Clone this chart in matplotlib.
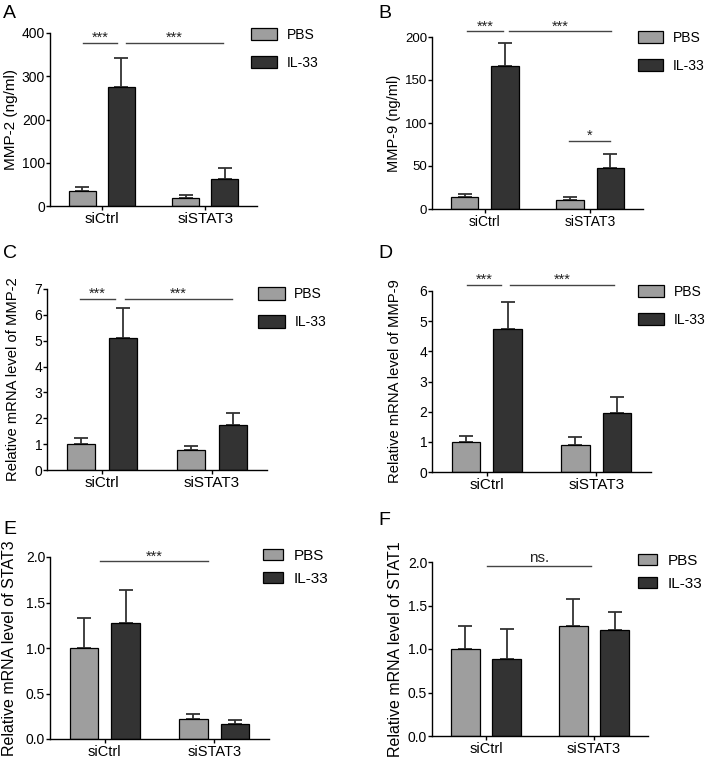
import numpy as np
import matplotlib
matplotlib.use('Agg')
import matplotlib.pyplot as plt

plt.rcParams['font.family'] = ['Liberation Sans', 'DejaVu Sans']

groups = ['siCtrl', 'siSTAT3']
series = ['PBS', 'IL-33']
colors = ['#9e9e9e', '#333333']

# panel data: means and upper SD for PBS, IL-33 in siCtrl / siSTAT3
pbs_mean = {'A': [35, 19], 'B': [13.9, 10.8], 'C': [0.99, 0.76],
            'D': [0.99, 0.88], 'E': [1.0, 0.22], 'F': [1.0, 1.26]}
pbs_err = {'A': [10, 7], 'B': [4.1, 3.5], 'C': [0.23, 0.15],
           'D': [0.2, 0.28], 'E': [0.33, 0.05], 'F': [0.27, 0.315]}
il33_mean = {'A': [275, 62], 'B': [166, 47.9], 'C': [5.1, 1.74],
             'D': [4.75, 1.96], 'E': [1.28, 0.16], 'F': [0.88, 1.215]}
il33_err = {'A': [68, 25], 'B': [27, 16], 'C': [1.16, 0.46],
            'D': [0.9, 0.54], 'E': [0.36, 0.05], 'F': [0.35, 0.215]}

ylabels = {'A': 'MMP-2 (ng/ml)', 'B': 'MMP-9 (ng/ml)',
           'C': 'Relative mRNA level of MMP-2', 'D': 'Relative mRNA level of MMP-9',
           'E': 'Relative mRNA level of STAT3', 'F': 'Relative mRNA level of STAT1'}
yticks = {'A': [0, 100, 200, 300, 400], 'B': [0, 50, 100, 150, 200],
          'C': [0, 1, 2, 3, 4, 5, 6, 7], 'D': [0, 1, 2, 3, 4, 5, 6],
          'E': [0.0, 0.5, 1.0, 1.5, 2.0], 'F': [0.0, 0.5, 1.0, 1.5, 2.0]}
ytick_fmt = {'A': '{:.0f}', 'B': '{:.0f}', 'C': '{:.0f}', 'D': '{:.0f}',
             'E': '{:.1f}', 'F': '{:.1f}'}

# significance brackets: (x0, x1, y, text)
sig = {'A': [(-0.18, 0.15, 378, '***'), (0.23, 1.17, 378, '***')],
       'B': [(-0.165, 0.176, 206.5, '***'), (0.23, 1.2, 206.5, '***'), (0.8, 1.19, 79.5, '*')],
       'C': [(-0.2, 0.12, 6.63, '***'), (0.21, 1.18, 6.63, '***')],
       'D': [(-0.18, 0.13, 6.21, '***'), (0.21, 1.16, 6.21, '***')],
       'E': [(-0.04, 0.94, 1.956, '***')],
       'F': [(0.01, 0.97, 1.95, 'ns.')]}

W, H = 709, 759
# axes boxes in pixels: left, right, top, bottom
boxes = {'A': (50, 257, 33, 206), 'B': (432, 643, 37, 209),
         'C': (47, 267, 289, 470), 'D': (432, 651, 291, 472),
         'E': (50, 269, 557, 739), 'F': (432, 648, 562, 736)}
# legend: anchor x, anchor y, labelspacing, fontsize, handlelength, handleheight
legend_opt = {'A': (0.97, 1.03, 1.0, 10, 1.9, 1.0), 'B': (0.975, 1.035, 1.0, 10, 1.85, 0.95),
              'C': (0.96, 1.01, 1.0, 10, 1.9, 1.0), 'D': (0.94, 1.035, 1.0, 10, 1.9, 1.0),
              'E': (0.973, 1.044, 0.58, 11, 1.3, 0.7), 'F': (0.954, 1.047, 0.58, 11, 1.25, 0.7)}
label_x = {'A': -0.155, 'B': -0.147, 'C': -0.123, 'D': -0.137, 'E': -0.15, 'F': -0.134}
label_fs = {'A': 11, 'B': 10.5, 'C': 10.6, 'D': 10.6, 'E': 11.5, 'F': 11.5}
ytick_fs = {'A': 10, 'B': 9.5, 'C': 10, 'D': 10, 'E': 10, 'F': 10}
xtick_fs = {'A': 11, 'B': 10, 'C': 11, 'D': 11, 'E': 10.5, 'F': 10.5}
letter_pos = {'A': (3, 5), 'B': (378, 5), 'C': (3, 245), 'D': (378, 245),
              'E': (3, 521), 'F': (378, 512)}

fig = plt.figure(figsize=(W / 100, H / 100), dpi=100)

x = np.arange(len(groups))
off = 0.19
bw = 0.26

for key in ['A', 'B', 'C', 'D', 'E', 'F']:
    l, r, t, b = boxes[key]
    ax = fig.add_axes([l / W, 1 - b / H, (r - l) / W, (b - t) / H])
    means = [pbs_mean[key], il33_mean[key]]
    errs = [pbs_err[key], il33_err[key]]
    for i, s in enumerate(series):
        xs = x + (2 * i - 1) * off
        ax.errorbar(xs, means[i], yerr=[np.zeros(2), errs[i]], fmt='none',
                    ecolor='#333333', elinewidth=1.3, capsize=5, capthick=1.3, zorder=1)
        ax.bar(xs, means[i], width=bw, color=colors[i], edgecolor='black',
               linewidth=0.9, label=s, zorder=2)
    yt = yticks[key]
    ax.set_ylim(yt[0], yt[-1])
    ax.set_xlim(-0.5, 1.5)
    ax.set_yticks(yt)
    ax.set_yticklabels([ytick_fmt[key].format(v) for v in yt])
    ax.set_xticks(x)
    ax.set_xticklabels(groups)
    ax.set_ylabel(ylabels[key], fontsize=label_fs[key])
    ax.yaxis.set_label_coords(label_x[key], 0.5)
    for sp in ['top', 'right']:
        ax.spines[sp].set_visible(False)
    for sp in ['left', 'bottom']:
        ax.spines[sp].set_linewidth(1.0)
    ax.tick_params(axis='y', labelsize=ytick_fs[key], width=1.0, length=3, pad=0.5, direction='out')
    ax.tick_params(axis='x', labelsize=xtick_fs[key], width=1.0, length=3, pad=1.5, direction='out')
    for x0, x1, yy, txt in sig[key]:
        ax.plot([x0, x1], [yy, yy], color='#444444', lw=1.0, clip_on=False)
        if txt == 'ns.':
            ax.annotate(txt, xy=((x0 + x1) / 2, yy), xytext=(0, 3), textcoords='offset points',
                        ha='center', va='baseline', fontsize=11, color='#222222',
                        annotation_clip=False)
        else:
            ax.annotate(txt, xy=((x0 + x1) / 2, yy), xytext=(0, 0.5), textcoords='offset points',
                        ha='center', va='baseline', fontsize=10.5, color='#222222',
                        annotation_clip=False)
    lx, ly, sp_, fs, hl, hh = legend_opt[key]
    ax.legend(loc='upper left', bbox_to_anchor=(lx, ly), frameon=False, fontsize=fs,
              borderpad=0, borderaxespad=0, handlelength=hl, handleheight=hh,
              handletextpad=0.7, labelspacing=sp_)
    px, py = letter_pos[key]
    fig.text(px / W, 1 - py / H, key, fontsize=14, ha='left', va='top')

fig.savefig('out.png', dpi=100)
